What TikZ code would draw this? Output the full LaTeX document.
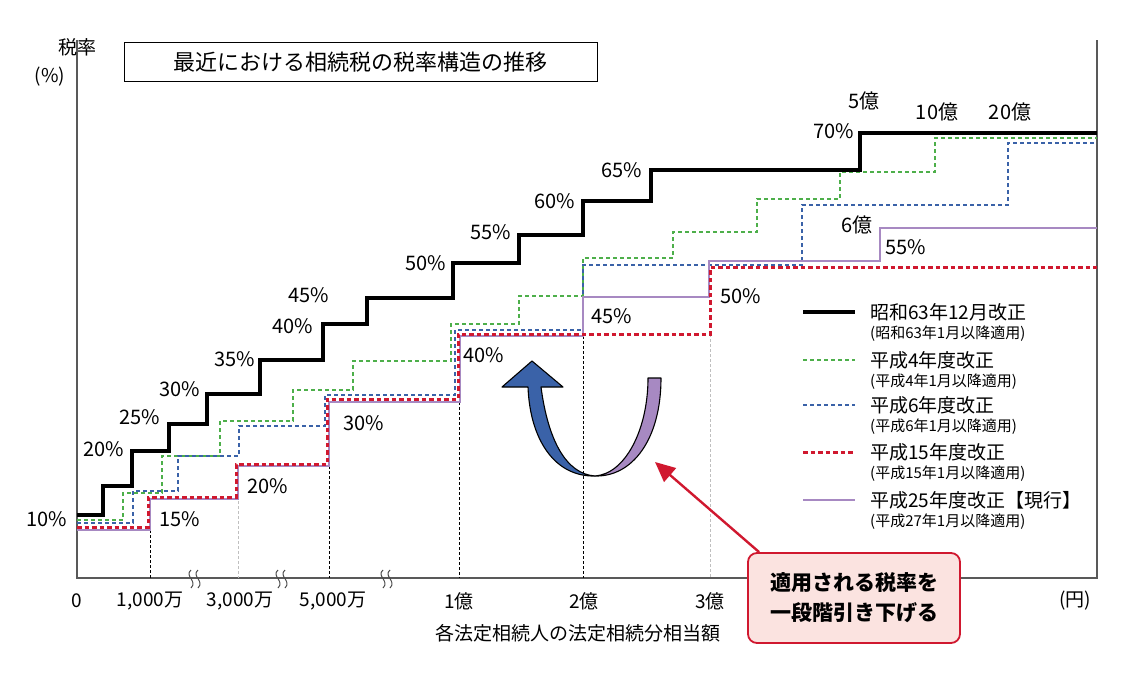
\documentclass[tikz,border=0pt]{standalone}
\usepackage{fontspec}
\setmainfont{Noto Sans CJK JP}
\usetikzlibrary{positioning,arrows.meta}
\definecolor{gline}{HTML}{4DAF4A}
\definecolor{bline}{HTML}{3A62A8}
\definecolor{rline}{HTML}{D0182F}
\definecolor{pline}{HTML}{A789C2}
\definecolor{callfill}{HTML}{FBE3E0}
\begin{document}
\begin{tikzpicture}[x=1pt,y=-1pt,
    pct/.style={font=\fontsize{20}{23}\selectfont},
    tick/.style={font=\fontsize{19}{22}\selectfont, anchor=center},
    leg/.style={font=\fontsize{19}{22}\selectfont, anchor=west, inner sep=0pt},
    legsub/.style={font=\fontsize{15}{18}\selectfont, anchor=west, inner sep=0pt},
    guide/.style={densely dashed, line width=1pt},
    guidegray/.style={guide, gray!50},
    s63/.style={line width=3.2pt},
    h4/.style={gline, line width=2.3pt, dash pattern=on 4pt off 3pt},
    h6/.style={bline, line width=2.5pt, dash pattern=on 4pt off 3pt},
    h15/.style={rline, line width=3pt, dash pattern=on 4.5pt off 3pt},
    h25/.style={pline, line width=2.8pt}]
  \useasboundingbox (0,0) rectangle (1140,676);

  % axes
  \draw[line width=1.3pt, gray!70!black] (77,40) -- (77,578) -- (1097,578) -- (1097,40);

  % guide lines
  \draw[guide] (150,500) -- (150,578);
  \draw[guidegray] (238,466) -- (238,578);
  \draw[guide] (329,466) -- (329,578);
  \draw[guide] (459,402) -- (459,578);
  \draw[guide] (583,336) -- (583,578);
  \draw[guidegray] (710,334) -- (710,578);

  % break marks
  \foreach \bx in {195,282,387}
    \draw[line width=1pt, gray!60!black]
      (\bx-4,570) .. controls (\bx-11,576) and (\bx+3,581) .. (\bx-4,588)
      (\bx+3,570) .. controls (\bx-4,576) and (\bx+10,581) .. (\bx+3,588);

  % rate schedules
  \draw[h4] (77,520) -| (123,493) -| (162,456) -| (220,421) -| (293,390) -| (353,361)
    -| (451,324) -| (519,296) -| (583,258) -| (673,232) -| (757,199) -| (840,172)
    -| (935,138) -- (1097,138);
  \draw[h6] (77,523) -| (133,491) -| (178,456) -| (239,426) -| (325,395) -| (455,330)
    -| (583,265) -| (802,205) -| (1008,143) -- (1097,143);
  \draw[h25] (77,530) -| (150,499) -| (238,466) -| (329,402) -| (460,336)
    -| (583,297) -| (709,261) -| (880,228) -- (1097,228);
  \draw[h15] (77,527) -| (148,497) -| (236,464) -| (327,399) -| (458,334)
    -| (710,268) -- (1097,268);
  \draw[s63] (77,515) -| (103,486) -| (132,451) -| (169,424) -| (207,394) -| (260,360)
    -| (323,324) -| (367,298) -| (453,263) -| (519,235) -| (583,201) -| (651,170)
    -| (860,133) -- (1097,133);

  % rate labels
  \foreach \lx/\ly/\txt in {47/519/10\%, 180/519/15\%, 104/449/20\%, 140/417/25\%,
      180/389/30\%, 235/359/35\%, 293/326/40\%, 309/295/45\%, 426/263/50\%,
      491/232/55\%, 555/201/60\%, 622/170/65\%, 834/131/70\%, 906/247/55\%,
      741/296/50\%, 612/316/45\%, 484/355/40\%, 364/423/30\%, 268/486/20\%,
      864/101/5億, 937/112/10億, 1010/112/20億, 857/225/6億}
    \node[pct] at (\lx,\ly) {\txt};

  % axis labels
  \foreach \tx/\txt in {77/0, 150/{1,000万}, 240/{3,000万}, 333/{5,000万},
      459/1億, 584/2億, 710/3億, 1075/(円)}
    \node[tick] at (\tx,601) {\txt};
  \node[font=\fontsize{19}{22}\selectfont] (xlabel) at (578,633) {各法定相続人の法定相続分相当額};
  \node[font=\fontsize{19}{22}\selectfont] (ylabel) at (77,47) {税率};
  \node[font=\fontsize{19}{22}\selectfont] (yunit) at (50,77) {(\%)};
  \node[draw, line width=1pt, minimum width=473pt, minimum height=39pt,
    font=\fontsize{22}{25}\selectfont] (title) at (360.5,62.5) {最近における相続税の税率構造の推移};

  % legend
  \foreach \ly/\sty/\main/\sub in {
      312/s63/昭和63年12月改正/(昭和63年1月以降適用),
      360/h4/平成4年度改正/(平成4年1月以降適用),
      405/h6/平成6年度改正/(平成6年1月以降適用),
      452/h15/平成15年度改正/(平成15年1月以降適用),
      500/h25/平成25年度改正【現行】/(平成27年1月以降適用)} {
    \draw[\sty] (803,\ly) -- (855,\ly);
    \node[leg] at (870,\ly) {\main};
    \node[legsub] at (870,\ly+22) {\sub};
  }

  % lowering arrow
  \draw[fill=bline, line width=1.1pt, line join=round]
    (502,387) -- (532,361) -- (563,387) -- (541,387)
    .. controls (548,440) and (566,474) .. (595,476)
    .. controls (555,477) and (530,440) .. (528,387) -- cycle;
  \draw[fill=pline, line width=1.1pt, line join=round]
    (595,476) .. controls (625,474) and (648,430) .. (648,378)
    -- (661,378) .. controls (661,440) and (632,477) .. (595,476) -- cycle;

  % callout
  \node[draw=rline, fill=callfill, line width=1.8pt, rounded corners=9pt,
    minimum width=212pt, minimum height=90pt, align=center,
    font=\fontsize{21}{30}\selectfont\bfseries] (callout) at (854,598)
    {適用される税率を\\一段階引き下げる};
  \coordinate (target) at (655,462);
  \draw[rline, line width=2.4pt, -{Triangle[length=20pt,width=18pt]}]
    (callout.north west) ++(12,0) coordinate (cstart) (cstart) -- (target);
\end{tikzpicture}
\end{document}
